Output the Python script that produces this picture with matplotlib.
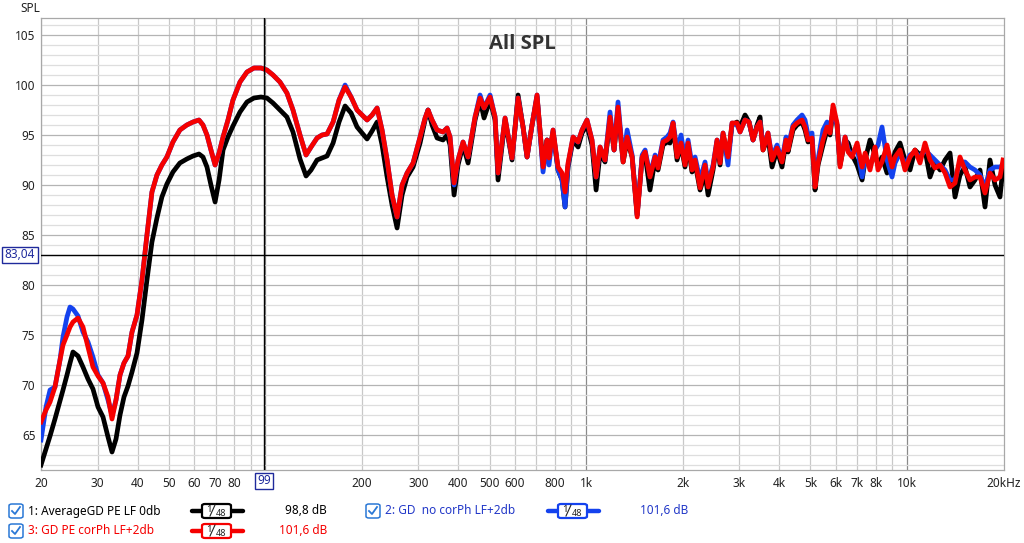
import matplotlib
matplotlib.use("Agg")
import matplotlib.pyplot as plt
from matplotlib.lines import Line2D
from matplotlib.patches import FancyBboxPatch, Rectangle
import matplotlib.ticker as ticker

plt.rcParams['font.family'] = ['Noto Sans', 'DejaVu Sans']

# ---- data (Hz, dB) ----
freq = [20.0, 20.73, 21.34, 22.11, 22.92, 23.42, 24.10, 24.63, 25.16, 26.08,
        27.03, 28.02, 29.04, 30.11, 31.21, 32.35, 33.29, 34.26, 35.26, 36.28,
        37.34, 38.43, 39.83, 41.28, 42.78, 44.34, 45.96, 47.62, 49.36, 51.55,
        54.18, 56.94, 59.53, 62.15, 63.95, 65.81, 67.72, 69.75, 71.78, 73.86,
        76.52, 79.31, 83.40, 87.70, 92.21, 96.96, 101.2,
        105.7, 111.1, 116.8, 122.0, 128.3, 134.0, 138.9, 145.0, 150.3, 155.8,
        162.7, 169.8, 177.3, 185.1, 193.2, 200.3, 207.6, 215.2, 223.1, 231.2,
        239.7, 248.4, 257.5, 266.9, 276.6, 288.8, 303.7, 314.8, 321.6, 331.0, 343.1,
        358.1, 368.6, 376.6, 387.6, 398.8, 413.4, 428.5, 450.6, 467.0, 480.6,
        501.8, 520.2, 531.4, 558.9, 587.6, 613.5, 635.9, 654.4, 678.2, 703.0,
        734.0, 755.3, 766.2, 788.6, 817.4, 841.2, 859.5, 878.2, 910.4, 943.7,
        971, 1006, 1043, 1074, 1105, 1145, 1187, 1222, 1257,
        1304, 1342, 1391, 1442, 1495, 1527, 1581, 1640, 1675, 1736,
        1787, 1826, 1866, 1920, 1976, 2033, 2078, 2138, 2185, 2265,
        2347, 2399, 2486, 2558, 2614, 2671, 2768, 2849, 2953, 3017,
        3128, 3219, 3313, 3409, 3483, 3559, 3688, 3796, 3935, 4078,
        4197, 4258, 4413, 4542, 4708, 4810, 4915, 5058, 5168, 5281,
        5473, 5633, 5755, 5881, 6052, 6184, 6413, 6553, 6744, 6990,
        7245, 7403, 7668, 7948, 8121, 8358, 8664, 8981, 9176, 9510,
        9857, 10218, 10591, 10978, 11379, 11795, 12226, 12673, 13136, 13616,
        14113, 14625, 15160, 15713, 16289, 16885, 17501, 18139, 18802, 19489, 19914]

spl_avg = [62.0, 63.6, 64.9, 66.6, 68.4, 69.5, 71.0, 72.2, 73.3, 72.9,
           71.8, 70.6, 69.6, 67.8, 66.8, 64.8, 63.3, 64.6, 67.0, 68.8,
           69.9, 71.3, 73.2, 76.5, 80.5, 84.3, 86.7, 88.8, 90.1, 91.3,
           92.2, 92.6, 92.9, 93.1, 92.8, 91.8, 90.0, 88.3, 90.5, 93.5,
           94.8, 95.9, 97.3, 98.3, 98.7, 98.8, 98.7,
           98.2, 97.5, 96.8, 95.3, 92.6, 90.9, 91.5, 92.5, 92.7, 92.9,
           94.2, 96.3, 97.9, 97.2, 95.8, 95.2, 94.6, 95.4, 96.3, 94.0,
           90.8, 88.0, 85.7, 89.0, 90.8, 91.8, 94.2, 96.5, 97.5, 96.0, 94.7,
           94.5, 95.0, 94.0, 89.0, 92.0, 94.0, 92.2, 96.5, 98.5, 96.7,
           98.5, 96.5, 90.5, 96.5, 92.5, 99.0, 95.8, 92.8, 96.0, 98.8,
           92.0, 94.5, 93.0, 95.3, 91.5, 90.5, 87.8, 91.8, 94.5, 93.8,
           95.2, 96.0, 94.0, 89.5, 93.2, 92.3, 96.5, 93.5, 97.5,
           92.3, 94.5, 92.8, 87.0, 92.8, 93.0, 89.5, 92.5, 91.5, 94.0,
           94.3, 94.2, 96.0, 92.5, 94.0, 91.8, 94.0, 91.3, 92.2, 89.5,
           91.2, 89.0, 91.5, 94.3, 92.0, 95.0, 92.8, 96.0, 96.3, 95.8,
           97.0, 96.3, 94.5, 96.0, 96.8, 93.5, 94.8, 91.8, 93.5, 91.8,
           94.3, 93.3, 95.5, 96.0, 96.3, 95.5, 94.3, 94.5, 89.5, 92.0,
           94.0, 95.5, 95.0, 97.5, 96.0, 92.0, 94.5, 94.2, 93.0, 92.0,
           90.5, 92.5, 94.5, 93.0, 92.0, 92.8, 91.2, 92.0, 93.3, 94.2,
           92.5, 91.5, 93.5, 93.0, 93.5, 90.8, 92.2, 91.5, 92.5, 93.2,
           88.8, 91.0, 91.8, 89.8, 90.5, 91.5, 87.8, 92.5, 90.0, 88.8, 91.8]

spl_nocor = [64.5, 67.8, 69.5, 69.8, 72.5, 74.8, 76.8, 77.8, 77.6, 76.9,
             75.3, 74.3, 72.8, 71.0, 70.2, 68.5, 67.0, 68.5, 71.0, 72.2,
             72.9, 75.3, 77.0, 80.5, 85.0, 89.3, 91.0, 92.0, 92.8, 94.3,
             95.5, 96.0, 96.3, 96.5, 96.0, 95.0, 93.5, 92.0, 93.2, 94.8,
             96.5, 98.5, 100.3, 101.3, 101.7, 101.7, 101.5,
             101.0, 100.3, 99.2, 97.5, 95.0, 93.0, 93.8, 94.7, 95.0, 95.1,
             96.3, 98.5, 100.0, 98.8, 97.5, 97.0, 96.5, 97.0, 97.7, 95.5,
             92.5, 89.0, 86.8, 90.0, 91.2, 92.2, 94.8, 96.7, 97.5, 96.5, 95.5,
             95.3, 95.7, 94.8, 90.0, 92.5, 94.3, 92.8, 96.8, 99.0, 97.7,
             99.0, 96.8, 91.2, 96.7, 92.7, 98.7, 95.8, 92.8, 96.0, 99.0,
             91.3, 94.5, 92.0, 95.5, 91.5, 90.5, 87.8, 92.0, 94.8, 94.3,
             95.5, 96.5, 94.5, 90.8, 93.8, 92.5, 97.3, 93.5, 98.3,
             92.5, 95.5, 93.0, 87.0, 93.0, 93.5, 91.0, 93.0, 92.0, 94.5,
             94.8, 95.2, 96.3, 93.5, 95.0, 92.5, 94.5, 92.0, 92.8, 90.5,
             92.3, 90.2, 92.0, 94.5, 93.0, 95.2, 92.0, 96.2, 96.0, 95.3,
             96.5, 96.3, 94.5, 95.8, 96.3, 93.8, 95.2, 92.8, 94.0, 92.5,
             94.8, 93.8, 96.0, 96.5, 97.0, 96.5, 95.0, 95.2, 90.0, 92.5,
             95.5, 96.3, 95.5, 97.5, 96.0, 92.3, 94.8, 93.5, 93.0, 93.8,
             90.8, 92.8, 91.8, 93.5, 94.0, 95.8, 92.5, 90.8, 92.2, 93.2,
             92.0, 93.0, 93.3, 92.8, 93.5, 93.0, 92.5, 92.0, 91.5, 90.5,
             90.5, 92.3, 92.3, 91.8, 91.5, 91.0, 89.8, 91.5, 91.8, 91.8, 92.0]

spl_cor = [66.3, 67.5, 68.3, 69.8, 72.5, 74.0, 75.0, 75.8, 76.3, 76.7,
           75.8, 73.8, 71.8, 70.9, 70.2, 68.8, 66.6, 68.5, 71.0, 72.2,
           72.9, 75.3, 77.0, 80.5, 85.0, 89.3, 91.0, 92.0, 92.8, 94.3,
           95.5, 96.0, 96.3, 96.5, 96.0, 95.0, 93.5, 92.0, 93.2, 94.8,
           96.5, 98.5, 100.3, 101.3, 101.7, 101.7, 101.5,
           101.0, 100.3, 99.2, 97.5, 95.0, 93.0, 93.8, 94.7, 95.0, 95.1,
           96.3, 98.5, 99.8, 98.8, 97.5, 97.0, 96.5, 97.0, 97.7, 95.5,
           92.5, 89.0, 86.8, 90.0, 91.2, 92.2, 94.8, 96.7, 97.5, 96.5, 95.5,
           95.3, 95.7, 94.8, 90.2, 92.5, 94.3, 92.8, 96.8, 98.7, 97.7,
           98.8, 96.8, 91.2, 96.7, 92.7, 98.7, 95.8, 92.8, 96.0, 99.0,
           91.8, 94.5, 92.7, 95.5, 91.8, 91.2, 89.3, 92.2, 94.8, 94.3,
           95.5, 96.5, 94.5, 90.8, 93.8, 92.5, 96.8, 93.5, 97.8,
           92.3, 94.8, 92.8, 86.8, 92.8, 93.3, 90.8, 92.8, 91.7, 94.3,
           94.5, 94.8, 96.2, 92.8, 94.2, 92.0, 94.2, 91.5, 92.5, 89.7,
           92.0, 89.8, 91.8, 94.5, 92.2, 95.2, 92.8, 96.2, 96.2, 95.3,
           96.5, 96.3, 94.5, 95.8, 96.3, 93.5, 95.2, 92.5, 93.7, 92.3,
           94.5, 93.5, 95.8, 96.2, 96.5, 95.8, 94.5, 94.7, 89.8, 92.2,
           94.5, 95.8, 95.2, 98.0, 96.2, 91.8, 94.8, 93.3, 92.8, 94.2,
           91.8, 93.2, 91.5, 93.8, 91.5, 92.3, 94.0, 91.8, 92.8, 93.5,
           91.5, 92.8, 93.5, 92.2, 94.2, 92.5, 91.7, 92.0, 91.2, 89.8,
           90.2, 92.8, 91.5, 90.5, 90.8, 90.8, 89.2, 91.2, 90.5, 90.8, 92.5]

x_ticks = [20, 30, 40, 50, 60, 70, 80, 200, 300, 400, 500, 600, 800,
           1000, 2000, 3000, 4000, 5000, 6000, 7000, 8000, 10000, 20000]
x_labels = ['20', '30', '40', '50', '60', '70', '80', '200', '300', '400', '500',
            '600', '800', '1k', '2k', '3k', '4k', '5k', '6k', '7k', '8k', '10k', '20kHz']
y_ticks = [65, 70, 75, 80, 85, 90, 95, 100, 105]

cursor_f = 99
cursor_db = 83.04

c_black = '#000000'
c_blue = '#1442ee'
c_red = '#f50000'
c_box = '#1f2a9c'
c_check = '#2a78d6'

W, H = 1024, 543
fig = plt.figure(figsize=(W / 100, H / 100), dpi=100)
ax = fig.add_axes([41 / W, 1 - 470 / H, 962.6 / W, 452 / H])

# grid
for f in [20, 30, 40, 50, 60, 70, 80, 90, 200, 300, 400, 500, 600, 700, 800, 900,
          2000, 3000, 4000, 5000, 6000, 7000, 8000, 9000]:
    ax.axvline(f, color='#c8c8c8', lw=0.9, zorder=0)
for f in [100, 1000, 10000]:
    ax.axvline(f, color='#8a8a8a', lw=0.9, zorder=0)
for v in range(62, 107):
    ax.axhline(v, color='#b4b4b4' if v % 5 == 0 else '#dedede', lw=0.9, zorder=0)

ax.plot(freq, spl_avg, color=c_black, lw=3.4, zorder=3, solid_joinstyle='round')
ax.plot(freq, spl_nocor, color=c_blue, lw=3.4, zorder=4, solid_joinstyle='round')
ax.plot(freq, spl_cor, color=c_red, lw=3.4, zorder=5, solid_joinstyle='round')

# cursors
ax.axvline(cursor_f, color='black', lw=1.0, zorder=6)
ax.axhline(cursor_db, color='black', lw=1.0, zorder=6)

ax.set_xscale('log')
ax.set_xlim(20, 20000)
ax.set_ylim(61.5, 106.7)
ax.xaxis.set_major_locator(ticker.FixedLocator(x_ticks))
ax.xaxis.set_major_formatter(ticker.FixedFormatter(x_labels))
ax.xaxis.set_minor_locator(ticker.NullLocator())
ax.set_yticks(y_ticks)
ax.tick_params(length=0, labelsize=8.5, colors='#222222', pad=5)
ax.tick_params(axis='y', pad=4)
for s in ax.spines.values():
    s.set_color('#a8a8a8')
    s.set_linewidth(0.9)

ax.text(0.5, 0.965, 'All SPL', transform=ax.transAxes, ha='center', va='top',
        fontsize=14.5, fontweight='bold', family=['Open Sans', 'DejaVu Sans'],
        color='#333333', zorder=7)
fig.text(20 / W, 1 - 8 / H, 'SPL', ha='left', va='center', fontsize=8.5, color='#222222')


def px(x, y):
    return x / W, 1 - y / H


# cursor value boxes
bx, by = px(2, 263)
fig.patches.append(Rectangle((bx, by), 36 / W, 16 / H, transform=fig.transFigure,
                             facecolor='white', edgecolor=c_box, lw=1.0, zorder=8))
fig.text(*px(20, 255), '83,04', ha='center', va='center', fontsize=8.5, color=c_box, zorder=9)
bx, by = px(255, 489)
fig.patches.append(Rectangle((bx, by), 18 / W, 16 / H, transform=fig.transFigure,
                             facecolor='white', edgecolor=c_box, lw=1.0, zorder=8))
fig.text(*px(264, 481), '99', ha='center', va='center', fontsize=8.5, color=c_box, zorder=9)


def checkbox(x, y):
    x0, y0 = px(x - 7, y + 7)
    fig.patches.append(FancyBboxPatch((x0, y0), 14 / W, 14 / H, boxstyle='round,pad=0,rounding_size=0.003',
                                      transform=fig.transFigure, facecolor='white',
                                      edgecolor=c_check, lw=1.1))
    xs, ys = zip(px(x - 4, y), px(x - 1, y + 3), px(x + 4, y - 4))
    fig.lines.append(Line2D(xs, ys, transform=fig.transFigure, color=c_check, lw=1.3))


def swatch(x0, x1, y, color):
    xs, ys = zip(px(x0, y), px(x1, y))
    fig.lines.append(Line2D(xs, ys, transform=fig.transFigure, color=color, lw=3.2,
                            solid_capstyle='round'))
    bx0, by0 = px(x0 + 10, y + 7)
    fig.patches.append(FancyBboxPatch((bx0, by0), 29 / W, 14 / H, boxstyle='round,pad=0,rounding_size=0.003',
                                      transform=fig.transFigure, facecolor='white',
                                      edgecolor=color, lw=1.6, zorder=3))
    fig.text(*px(x0 + 17, y - 1.5), '1', ha='center', va='center', fontsize=7, color='#222222', zorder=4)
    xs, ys = zip(px(x0 + 18, y + 5), px(x0 + 23, y - 6))
    fig.lines.append(Line2D(xs, ys, transform=fig.transFigure, color='#222222', lw=0.8, zorder=4))
    fig.text(*px(x0 + 29, y + 2.5), '48', ha='center', va='center', fontsize=6.5, color='#222222', zorder=4)


legend_rows = [
    (16, 511, '1: AverageGD PE LF 0db', c_black, 192, '98,8 dB', 327, 'right'),
    (373, 511, '2: GD  no corPh LF+2db', '#2238c8', 548, '101,6 dB', 640, 'left'),
    (16, 531, '3: GD PE corPh LF+2db', c_red, 192, '101,6 dB', 327, 'right'),
]
line_colors = [c_black, c_blue, c_red]
for (cx, cy, label, tcol, sx, val, vx, va_), lc in zip(legend_rows, line_colors):
    checkbox(cx, cy)
    fig.text(*px(cx + 12, cy), label, ha='left', va='center', fontsize=8.5, color=tcol)
    swatch(sx, sx + 51, cy, lc)
    fig.text(*px(vx, cy), val, ha=va_, va='center', fontsize=8.5, color=tcol)

fig.savefig('out.png', dpi=100)
